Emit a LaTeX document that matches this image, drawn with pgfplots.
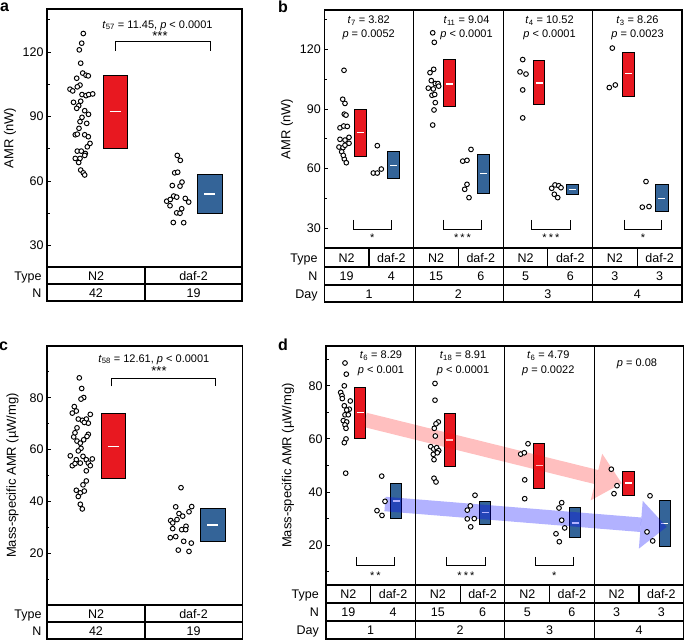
\documentclass[border=0pt]{standalone}
\usepackage{fontspec}
\setmainfont{Liberation Sans}
\usepackage{pgfplots}
\pgfplotsset{compat=1.18}
\usepackage{pgfplotstable}
\usetikzlibrary{arrows.meta}
\definecolor{boxred}{RGB}{232,24,32}
\definecolor{boxblue}{RGB}{52,100,152}
\newcommand{\tf}{\fontsize{12.5}{14}\selectfont}
\newcommand{\an}{\fontsize{11}{13}\selectfont}
\newcommand{\tk}{\fontsize{12.5}{14}\selectfont}

% ---------- panel a ----------
\pgfplotstableread{
x y
83.3 128.6
81.7 124.1
79.3 121.0
80.7 114.8
82.7 110.2
76.7 107.8
86 109.2
88.3 108.9
80 104.6
70 102.7
72.7 101.9
77.3 103.8
82 100.2
86 99.7
88.7 100.2
92.7 100.5
80.7 97.1
78.7 95.0
76.7 93.8
84.7 92.7
82 89.6
80 87.6
86.7 86.8
75.3 81.5
77.3 81.8
84.7 81.5
88.3 80.6
87.3 75.9
77.3 73.9
81.3 73.9
85.3 72.8
75.3 70.5
80 70.5
84.7 71.9
78.7 68.6
80.7 65.1
83.3 63.8
84.7 62.8
73.5 96.6
88.5 91.0
79.0 84.5
90.0 77.5
}\aN
\pgfplotstableread{
x y
177.3 71.9
180.3 69.6
174.7 63.8
177.7 64.1
172.3 57.9
182 59.5
180 57.6
173.7 53.0
176.7 52.5
166.7 50.6
170.3 51.4
185.3 51.9
188.7 50.2
181.7 47.1
176.7 45.2
180 45.0
173.3 40.7
183.7 40.6
170 48.5
}\aD
% ---------- panel c ----------
\pgfplotstableread{
x y
79.3 87.7
81.7 83.6
83.7 80.1
81 79.5
74.3 76.6
76.3 74.9
72.3 74.1
90.3 73.6
86.3 71.8
82.3 71.3
78.3 71.8
88.3 70.2
84.3 70.5
77 68.4
88.3 65.9
87 65.1
73.7 64.9
77 63.3
80.3 62.5
83.7 63.8
81 60.5
78.3 59.5
70.3 57.6
76.3 56.1
72.3 53.8
75 54.6
80.3 54.8
83 57.4
86.3 56.1
88.3 54.8
92.3 56.4
90.3 53.8
86.3 51.8
86.3 47.9
83 46.4
76.3 44.3
80.3 43.3
84.3 44.0
78.3 41.9
80.3 38.9
82.3 37.1
75 66.5
}\cN
\pgfplotstableread{
x y
181 45.3
175.7 37.9
191.7 38.0
189 36.0
179 35.3
182.7 34.3
170.7 32.6
172.7 31.7
186 30.4
181.7 29.1
172.7 29.5
185.7 29.1
170.3 26.0
175.7 26.4
183.7 24.6
191.3 23.9
178.3 21.2
189 20.7
177 33
}\cD
% ---------- panel b ----------
\pgfplotstableread{
x y
344 109.6
342.7 95.0
345 92.9
344.3 87.5
346 87.0
340 80.6
343.7 81.5
347.3 81.3
339 70.9
343 70.6
345 71.8
349 72.8
340 74.8
345 74.4
349 75.8
341.7 68.5
344.3 64.9
346.3 63.0
343.3 66.7
432.7 128.5
434.3 123.7
430 108.4
433.7 110.1
431.3 104.4
435.3 102.9
438 102.9
428.3 100.6
433.3 100.2
438.7 101.6
432 97
434.7 97.4
435.3 93.3
434 89.6
432.7 82
522.7 115
520 108.8
526 107.7
522.7 99.7
522.7 85.6
612.3 120.8
609.3 100.9
615.3 102.2
}\bN
\pgfplotstableread{
x y
377.3 71.6
373.3 57.8
377.3 57.8
381.3 59.8
471 69.7
462.7 63.8
467 64.2
467 52.1
464.7 49.6
469 45.4
551.7 50.1
555 51.8
558.7 51.4
561 50.4
554.3 47.1
557.7 45.4
646 53.5
642.3 40.6
649 40.9
}\bD
% ---------- panel d ----------
\pgfplotstableread{
x y
345 88.6
346.3 84.4
344.3 80
340.7 77.5
342 76.3
342.3 75.2
350.3 74.3
344.3 72.5
349.3 71.2
346.7 70.9
345 69.1
348.3 69.1
343.3 66.9
346.7 66.4
345 65.3
346 64
346 60
344.3 58.6
345.7 47.1
435 80.9
435 74.6
438.3 66.4
436 65.7
434.3 64
435.3 61.1
430.7 57.1
433.7 56.2
436.7 56.7
438.7 55.6
433.3 54.2
437.3 54.8
434 52.2
434 45.2
436 43.8
528 58.2
520.7 54.3
524.3 54.8
524.7 44.6
524.7 37.5
611.3 48.6
617 42.4
614 39.4
}\dN
\pgfplotstableread{
x y
381.7 46
385 36.5
377 33
382 31.2
475 38.8
470.3 34.8
467.3 33.2
467.3 29.9
474.3 30
470.7 26.9
561.7 36
559 34
561.7 29.4
564.7 26.5
556 24.3
559.3 21.3
650 38.6
647 25
652.7 21.6
}\dD

\pgfplotsset{
  panel/.style={
    scale only axis, anchor=north west, clip=false,
    axis line style={line width=1.1pt},
    xtick=\empty, ytick pos=left, tick align=inside,
    major tick length=4pt, minor tick length=2.5pt,
    tick style={black, line width=0.9pt},
    /pgf/number format/assume math mode=true,
    yticklabel style={font=\tk},
    ylabel style={font=\fontsize{13}{15}\selectfont, anchor=center},
  },
  pts/.style={only marks, mark=*, mark size=2.35pt,
    mark options={fill=white, draw=black, line width=0.95pt}},
}
\tikzset{brk/.style={line width=0.9pt}, tbl/.style={line width=1.1pt}}

% box: xl xr lo hi mean color ml mr
\newcommand{\bx}[8]{%
  \addplot[fill=#6, draw=black, line width=1pt] coordinates {(#1,#3) (#2,#3) (#2,#4) (#1,#4)} -- cycle;
  \addplot[white, line width=1.3pt] coordinates {(#7,#5) (#8,#5)};
}
\newcommand{\tc}[3]{\node[anchor=base, inner sep=0pt, font=\tf] at (#1pt,-#2pt) {#3};}
\newcommand{\tr}[3]{\node[anchor=base east, inner sep=0pt, font=\tf] at (#1pt,-#2pt) {#3};}
\newcommand{\tsub}[1]{\textit{t}\textsubscript{#1}}

\begin{document}
\begin{tikzpicture}
\useasboundingbox (0pt,0pt) rectangle (685pt,-640pt);

% ================= panel a =================
\begin{axis}[panel, at={(47pt,-9pt)}, width=195pt, height=258pt,
  xmin=47, xmax=242, ymin=20, ymax=140,
  ytick={30,60,90,120}, minor ytick={45,75,105,135},
  ylabel={AMR (nW)}, ylabel style={at={(axis description cs:-0.19,0.5)}}]
\bx{103}{127}{74.9}{109.2}{92.2}{boxred}{109.5}{120.5}
\bx{197}{222}{45}{62.8}{54}{boxblue}{204}{215}
\addplot[pts] table {\aN};
\addplot[pts] table {\aD};
\draw[brk] (axis cs:115,120.5) -- (axis cs:115,124.7) -- (axis cs:210,124.7) -- (axis cs:210,120.5);
\node[font=\an, anchor=base] at (axis cs:157.5,131) {\tsub{57} = 11.45, \textit{p} < 0.0001};
\node[font=\fontsize{13}{15}\selectfont, anchor=base] at (axis cs:160,125.4) {***};
\end{axis}
\draw[tbl] (47pt,-267pt) rectangle (242pt,-301pt);
\draw[tbl] (47pt,-284pt) -- (242pt,-284pt) (145pt,-267pt) -- (145pt,-301pt);
\tr{41.7}{280}{Type}\tr{41.7}{297}{N}
\tc{96}{280}{N2}\tc{193.5}{280}{daf-2}
\tc{96}{297}{42}\tc{193.5}{297}{19}
\node[font=\fontsize{16}{18}\selectfont\bfseries] at (4.5pt,-7.5pt) {a};

% ================= panel c =================
\begin{axis}[panel, at={(47pt,-346pt)}, width=195.5pt, height=259pt,
  xmin=47, xmax=242.5, ymin=0, ymax=100,
  ytick={20,40,60,80}, minor ytick={10,30,50,70,90},
  ylabel={Mass-specific AMR (µW/mg)}, ylabel style={at={(axis description cs:-0.177,0.5)}}]
\bx{101.7}{125.7}{48.8}{73.8}{61.2}{boxred}{108.2}{119.2}
\bx{200.3}{225}{24.4}{37.1}{30.9}{boxblue}{207.2}{218.2}
\addplot[pts] table {\cN};
\addplot[pts] table {\cD};
\draw[brk] (axis cs:111,84.4) -- (axis cs:111,87.6) -- (axis cs:215.3,87.6) -- (axis cs:215.3,84.4);
\node[font=\an, anchor=base] at (axis cs:153.8,93.8) {\tsub{58} = 12.61, \textit{p} < 0.0001};
\node[font=\fontsize{13}{15}\selectfont, anchor=base] at (axis cs:159,88.5) {***};
\end{axis}
\draw[tbl] (47pt,-605pt) rectangle (242.5pt,-639pt);
\draw[tbl] (47pt,-622pt) -- (242.5pt,-622pt) (145pt,-605pt) -- (145pt,-639pt);
\tr{41.7}{618}{Type}\tr{41.7}{635}{N}
\tc{96}{618}{N2}\tc{193.5}{618}{daf-2}
\tc{96}{635}{42}\tc{193.5}{635}{19}
\node[font=\fontsize{16}{18}\selectfont\bfseries] at (3.5pt,-346pt) {c};

% ================= panel b =================
\begin{axis}[panel, at={(324.3pt,-10pt)}, width=357.7pt, height=238pt,
  xmin=324.3, xmax=682, ymin=20, ymax=140,
  ytick={30,60,90,120}, minor ytick={45,75,105,135},
  ylabel={AMR (nW)}, ylabel style={at={(axis description cs:-0.104,0.5)}}]
\bx{354.3}{366}{66}{90}{78.3}{boxred}{356.7}{363.7}
\bx{387.3}{399.7}{55.1}{68.5}{61.7}{boxblue}{390}{397}
\bx{443.3}{455.3}{91.2}{115}{102.7}{boxred}{445.8}{452.8}
\bx{477.3}{489.3}{47.6}{67.2}{57.5}{boxblue}{479.8}{486.8}
\bx{533.3}{544.7}{92.2}{114.3}{103.2}{boxred}{535.5}{542.5}
\bx{566.7}{578.7}{46.8}{52.1}{49.4}{boxblue}{569.2}{576.2}
\bx{622.3}{634.3}{96.6}{118.8}{107.9}{boxred}{624.8}{631.8}
\bx{655.3}{668}{38.4}{51.8}{45.1}{boxblue}{658.2}{665.2}
\addplot[pts] table {\bN};
\addplot[pts] table {\bD};
\draw[brk] (axis cs:353.3,34.2) -- (axis cs:353.3,29.5) -- (axis cs:391.3,29.5) -- (axis cs:391.3,34.2);
\draw[brk] (axis cs:443.3,34.2) -- (axis cs:443.3,29.5) -- (axis cs:481.7,29.5) -- (axis cs:481.7,34.2);
\draw[brk] (axis cs:531.7,34.2) -- (axis cs:531.7,29.5) -- (axis cs:570,29.5) -- (axis cs:570,34.2);
\draw[brk] (axis cs:624.3,34.2) -- (axis cs:624.3,29.5) -- (axis cs:661.7,29.5) -- (axis cs:661.7,34.2);
\node[font=\an, anchor=base] at (axis cs:372.3,23.5) {*};
\node[font=\an, anchor=base] at (axis cs:462.5,23.5) {*\hspace{2pt}*\hspace{2pt}*};
\node[font=\an, anchor=base] at (axis cs:550.9,23.5) {*\hspace{2pt}*\hspace{2pt}*};
\node[font=\an, anchor=base] at (axis cs:643,23.5) {*};
\node[font=\an, anchor=base] at (axis cs:368.7,133.1) {\tsub{7} = 3.82};
\node[font=\an, anchor=base] at (axis cs:368.7,126.05) {\textit{p} = 0.0052};
\node[font=\an, anchor=base] at (axis cs:466.5,133.1) {\tsub{11} = 9.04};
\node[font=\an, anchor=base] at (axis cs:466.5,126.05) {\textit{p} < 0.0001};
\node[font=\an, anchor=base] at (axis cs:549.5,133.1) {\tsub{4} = 10.52};
\node[font=\an, anchor=base] at (axis cs:549.5,126.05) {\textit{p} < 0.0001};
\node[font=\an, anchor=base] at (axis cs:637.5,133.1) {\tsub{3} = 8.26};
\node[font=\an, anchor=base] at (axis cs:637.5,126.05) {\textit{p} = 0.0023};
\end{axis}
\draw[tbl] (324.3pt,-248pt) rectangle (682pt,-302pt);
\draw[tbl] (324.3pt,-267pt) -- (682pt,-267pt) (324.3pt,-285pt) -- (682pt,-285pt);
\draw[tbl] (413.7pt,-10pt) -- (413.7pt,-302pt) (503.1pt,-10pt) -- (503.1pt,-302pt) (592.6pt,-10pt) -- (592.6pt,-302pt);
\draw[tbl] (369pt,-248pt) -- (369pt,-267pt) (458.4pt,-248pt) -- (458.4pt,-267pt)
           (547.9pt,-248pt) -- (547.9pt,-267pt) (637.3pt,-248pt) -- (637.3pt,-267pt);
\tr{317.7}{262}{Type}\tr{317.7}{280.5}{N}\tr{317.7}{298}{Day}
\tc{346.65}{262}{N2}\tc{391.35}{262}{daf-2}\tc{436.05}{262}{N2}\tc{480.75}{262}{daf-2}
\tc{525.5}{262}{N2}\tc{570.25}{262}{daf-2}\tc{614.95}{262}{N2}\tc{659.65}{262}{daf-2}
\tc{346.65}{280.5}{19}\tc{391.35}{280.5}{4}\tc{436.05}{280.5}{15}\tc{480.75}{280.5}{6}
\tc{525.5}{280.5}{5}\tc{570.25}{280.5}{6}\tc{614.95}{280.5}{3}\tc{659.65}{280.5}{3}
\tc{369}{298}{1}\tc{458.4}{298}{2}\tc{547.9}{298}{3}\tc{637.3}{298}{4}
\node[font=\fontsize{16}{18}\selectfont\bfseries] at (283pt,-7pt) {b};

% ================= panel d =================
\begin{axis}[panel, at={(326pt,-346pt)}, width=357.7pt, height=239pt,
  xmin=326, xmax=683.7, ymin=5, ymax=95,
  ytick={20,40,60,80}, minor ytick={10,30,50,70,90},
  ylabel={Mass-specific AMR (µW/mg)}, ylabel style={at={(axis description cs:-0.106,0.5)}}]
\bx{354.7}{365.3}{60.1}{79.5}{69.9}{boxred}{356.5}{363.5}
\bx{390.7}{401.3}{29.9}{43.1}{36.6}{boxblue}{392.5}{399.5}
\bx{444}{455.3}{49.5}{69.7}{59.6}{boxred}{446.2}{453.2}
\bx{479.7}{490.7}{27.9}{36.3}{32.3}{boxblue}{481.7}{488.7}
\bx{533.7}{544.3}{41.4}{58.4}{49.9}{boxred}{535.5}{542.5}
\bx{569.3}{580.7}{22.9}{34.1}{28.4}{boxblue}{571.5}{578.5}
\bx{622.7}{634}{38.8}{47.9}{43.4}{boxred}{624.9}{631.9}
\bx{659.3}{670}{19.4}{37}{28.2}{boxblue}{661.2}{668.2}
\addplot[pts] table {\dN};
\addplot[pts] table {\dD};
\addplot[line width=14.5pt, red, opacity=0.25, -{Triangle[length=26pt,width=48pt,line width=0pt]}] coordinates {(365,67.2) (621.7,43.3)};
\addplot[line width=14.5pt, blue, opacity=0.3, -{Triangle[length=26pt,width=48pt,line width=0pt]}] coordinates {(385,35.5) (666.7,26.9)};
\draw[brk] (axis cs:356.7,15.6) -- (axis cs:356.7,12.5) -- (axis cs:394.3,12.5) -- (axis cs:394.3,15.6);
\draw[brk] (axis cs:446.7,15.6) -- (axis cs:446.7,12.5) -- (axis cs:485,12.5) -- (axis cs:485,15.6);
\draw[brk] (axis cs:535.3,15.6) -- (axis cs:535.3,12.5) -- (axis cs:573.3,12.5) -- (axis cs:573.3,15.6);
\node[font=\an, anchor=base] at (axis cs:375.5,7.25) {*\hspace{2pt}*};
\node[font=\an, anchor=base] at (axis cs:465.9,7.25) {*\hspace{2pt}*\hspace{2pt}*};
\node[font=\an, anchor=base] at (axis cs:554.3,7.25) {*};
\node[font=\an, anchor=base] at (axis cs:381,90.2) {\tsub{6} = 8.29};
\node[font=\an, anchor=base] at (axis cs:381,84.5) {\textit{p} < 0.001};
\node[font=\an, anchor=base] at (axis cs:463,90.2) {\tsub{18} = 8.91};
\node[font=\an, anchor=base] at (axis cs:463,84.5) {\textit{p} < 0.0001};
\node[font=\an, anchor=base] at (axis cs:548.3,90.2) {\tsub{6} = 4.79};
\node[font=\an, anchor=base] at (axis cs:548.3,84.5) {\textit{p} = 0.0022};
\node[font=\an, anchor=base] at (axis cs:637,87.4) {\textit{p} = 0.08};
\end{axis}
\draw[tbl] (326pt,-585pt) rectangle (683.7pt,-639pt);
\draw[tbl] (326pt,-603pt) -- (683.7pt,-603pt) (326pt,-621pt) -- (683.7pt,-621pt);
\draw[tbl] (415.4pt,-346pt) -- (415.4pt,-639pt) (504.9pt,-346pt) -- (504.9pt,-639pt) (594.3pt,-346pt) -- (594.3pt,-639pt);
\draw[tbl] (370.7pt,-585pt) -- (370.7pt,-603pt) (460.1pt,-585pt) -- (460.1pt,-603pt)
           (549.6pt,-585pt) -- (549.6pt,-603pt) (639pt,-585pt) -- (639pt,-603pt);
\tr{319}{598.5}{Type}\tr{319}{616.5}{N}\tr{319}{634.5}{Day}
\tc{348.35}{598.5}{N2}\tc{393.05}{598.5}{daf-2}\tc{437.75}{598.5}{N2}\tc{482.5}{598.5}{daf-2}
\tc{527.25}{598.5}{N2}\tc{571.95}{598.5}{daf-2}\tc{616.65}{598.5}{N2}\tc{661.35}{598.5}{daf-2}
\tc{348.35}{616.5}{19}\tc{393.05}{616.5}{4}\tc{437.75}{616.5}{15}\tc{482.5}{616.5}{6}
\tc{527.25}{616.5}{5}\tc{571.95}{616.5}{6}\tc{616.65}{616.5}{3}\tc{661.35}{616.5}{3}
\tc{370.7}{634.5}{1}\tc{460.1}{634.5}{2}\tc{549.6}{634.5}{3}\tc{639}{634.5}{4}
\node[font=\fontsize{16}{18}\selectfont\bfseries] at (283pt,-345pt) {d};
\end{tikzpicture}
\end{document}
